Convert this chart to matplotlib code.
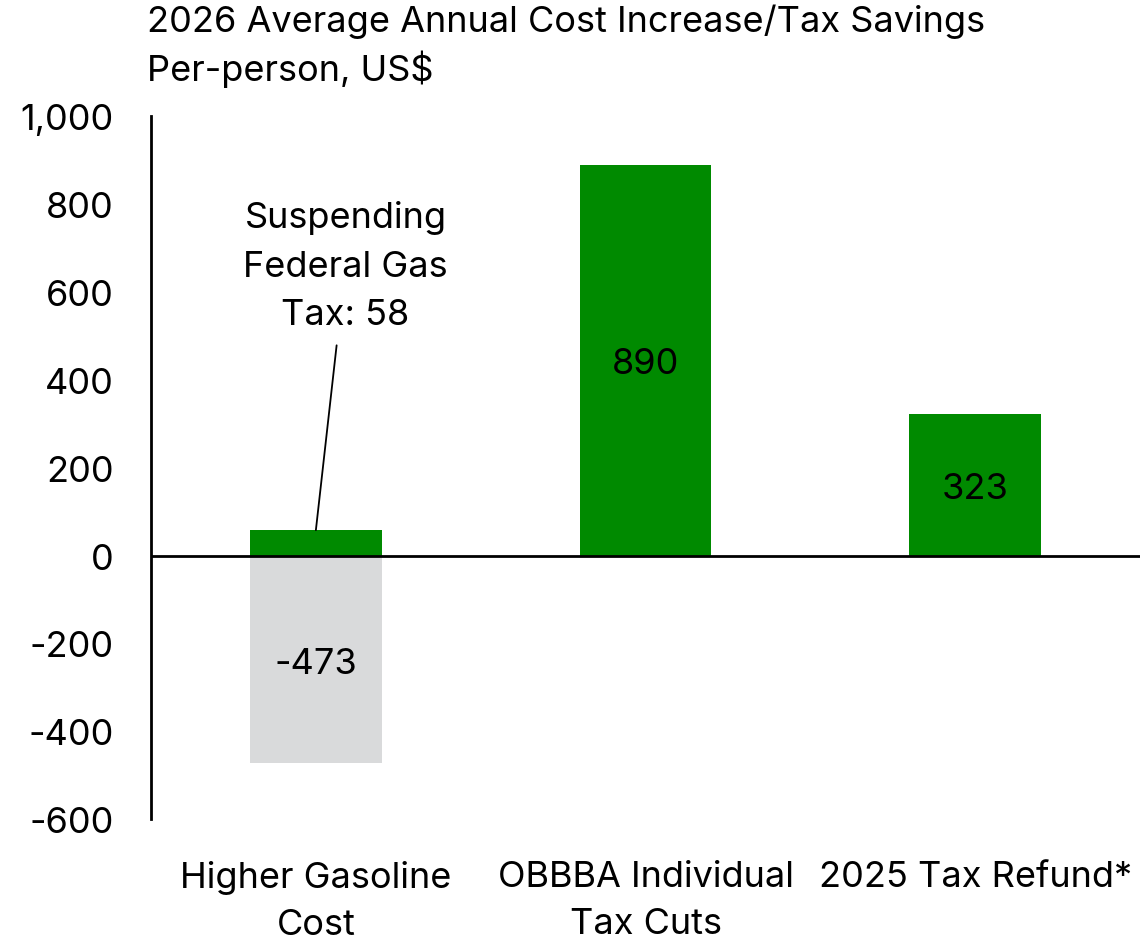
import matplotlib
matplotlib.use('Agg')
import matplotlib.pyplot as plt

# data
categories = ['Higher Gasoline\nCost', 'OBBBA Individual\nTax Cuts', '2025 Tax Refund*']
savings = [58, 890, 323]          # green bars
costs = [-473, 0, 0]              # grey bar (cost increase)
gas_tax_label = 'Suspending\nFederal Gas\nTax: 58'
yticks = [-600, -400, -200, 0, 200, 400, 600, 800, 1000]

plt.rcParams['font.family'] = ['Inter', 'DejaVu Sans']
fs = 26
green = '#008a00'
grey = '#d9dadb'

fig = plt.figure(figsize=(11.4, 9.45), dpi=100)
ax = fig.add_axes([0.1325, 0.132, 0.8675, 0.744])

x = list(range(len(categories)))
ax.bar(x, savings, width=0.4, color=green, zorder=2)
ax.bar(x[0], costs[0], width=0.4, color=grey, zorder=2)
ax.axhline(0, color='black', lw=2, zorder=3)

ax.set_xlim(-0.5, 2.5)
ax.set_ylim(-600, 1000)
ax.set_yticks(yticks)
ax.set_yticklabels([f'{v:,}' for v in yticks], fontsize=fs)
ax.set_xticks(x)
ax.set_xticklabels(categories, fontsize=fs, linespacing=1.55)
ax.tick_params(length=0)
ax.tick_params(axis='y', pad=27)
ax.tick_params(axis='x', pad=29)
for s in ['top', 'right', 'bottom']:
    ax.spines[s].set_visible(False)
ax.spines['left'].set_linewidth(2)

# value labels in the bar centres
ax.text(x[0], costs[0] / 2, f'{costs[0]}', ha='center', va='center_baseline', fontsize=fs)
for i in (1, 2):
    ax.text(x[i], savings[i] / 2, f'{savings[i]}', ha='center', va='center_baseline', fontsize=fs)

ax.annotate(gas_tax_label, xy=(x[0], savings[0]), xytext=(x[0] + 0.09, 510),
            ha='center', va='bottom', fontsize=fs, linespacing=1.6,
            arrowprops=dict(arrowstyle='-', color='black', lw=1.3, shrinkA=8, shrinkB=0))

fig.text(0.129, 0.951, '2026 Average Annual Cost Increase/Tax Savings\nPer-person, US$',
         ha='left', va='center', fontsize=fs, linespacing=1.35)

fig.savefig('out.png', dpi=100)
